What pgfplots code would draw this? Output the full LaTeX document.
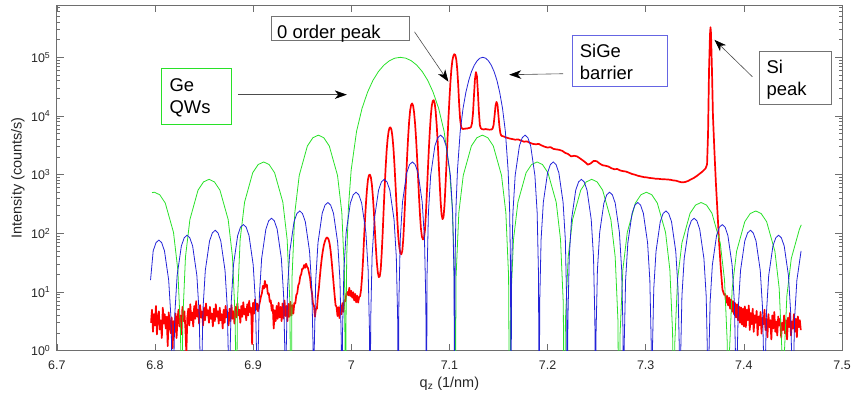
\documentclass[border=0pt]{standalone}
\usepackage{fontspec}
\setmainfont{Liberation Sans}
\usepackage{pgfplots}
\pgfplotsset{compat=1.18}
\usetikzlibrary{arrows.meta}
\definecolor{mgreen}{RGB}{40,225,40}
\definecolor{mblue}{RGB}{35,35,215}
\definecolor{mred}{RGB}{255,0,0}
\definecolor{axgray}{RGB}{110,110,110}
\begin{document}
\begin{tikzpicture}[x=1pt,y=1pt]
\path (0,0) rectangle (854,398);
\begin{axis}[
  at={(57pt,46pt)}, anchor=south west,
  width=788pt, height=347pt, scale only axis,
  xmin=6.7, xmax=7.5, ymode=log, ymin=1, ymax=7.8e5,
  xtick={6.7,6.8,6.9,7,7.1,7.2,7.3,7.4,7.5},
  xticklabels={6.7,6.8,6.9,7,7.1,7.2,7.3,7.4,7.5},
  ytick={1,10,100,1000,10000,100000},
  yticklabels={10\textsuperscript{0},10\textsuperscript{1},10\textsuperscript{2},10\textsuperscript{3},10\textsuperscript{4},10\textsuperscript{5}},
  minor ytick={2,3,4,5,6,7,8,9,20,30,40,50,60,70,80,90,200,300,400,500,600,700,800,900,2000,3000,4000,5000,6000,7000,8000,9000,20000,30000,40000,50000,60000,70000,80000,90000,200000,300000,400000,500000,600000,700000},
  tick align=inside,
  major tick length=7pt, minor tick length=3.5pt,
  axis line style={axgray, line width=0.8pt},
  every tick/.style={axgray, line width=0.6pt},
  tick label style={font=\fontsize{12.5}{14}\selectfont, text=black!85},
  xticklabel style={anchor=base, yshift=-19pt},
  yticklabel style={anchor=east, xshift=-3pt},
  xlabel={q\textsubscript{z} (1/nm)},
  ylabel={Intensity (counts/s)},
  label style={font=\fontsize{14.5}{16}\selectfont, text=black!85},
  xlabel style={at={(axis description cs:0.5,-0.1066)}, anchor=base},
  ylabel style={at={(axis description cs:-0.0495,0.5)}, anchor=center},
]
% measured data (red)
\addplot[mred, line width=1.7pt, line join=round] coordinates {
(6.796,3.0)(6.797,5.0)(6.798,2.1)(6.799,4.2)(6.800,2.7)(6.801,5.8)(6.802,1.9)(6.803,3.7)(6.804,4.7)(6.805,2.3)(6.806,3.3)(6.807,1.65)(6.808,5.4)(6.809,2.9)(6.810,4.2)(6.811,2.4)(6.812,3.8)(6.813,1.2)(6.814,4.5)(6.815,3.0)(6.816,2.0)(6.817,3.7)(6.818,1.1)(6.819,3.2)(6.820,2.1)(6.821,4.3)(6.822,1.65)(6.823,3.5)(6.824,5.0)(6.825,2.6)(6.826,4.0)(6.827,1.9)(6.828,5.6)(6.829,3.2)(6.830,4.7)(6.831,2.4)(6.832,0.9)(6.833,3.7)(6.834,5.2)(6.835,2.7)(6.836,6.2)(6.837,3.3)(6.838,4.5)(6.839,2.6)(6.840,5.8)(6.841,3.5)(6.842,7.0)(6.843,3.8)(6.844,5.0)(6.845,2.9)(6.846,6.0)(6.847,3.7)(6.848,4.7)(6.849,2.7)(6.850,5.4)(6.851,3.3)(6.852,6.4)(6.853,4.0)(6.854,4.9)(6.855,3.0)(6.856,5.6)(6.857,3.5)(6.858,4.3)(6.859,2.6)(6.860,5.2)(6.861,3.2)(6.862,6.2)(6.863,3.8)(6.864,4.7)(6.865,2.9)(6.866,5.4)(6.867,3.3)(6.868,4.2)(6.869,2.4)(6.870,5.0)(6.871,3.0)(6.872,5.8)(6.873,3.7)(6.874,4.5)(6.875,2.7)(6.876,5.2)(6.877,3.2)(6.878,6.0)(6.879,3.5)(6.880,4.7)(6.881,2.9)(6.882,5.6)(6.883,3.7)(6.884,6.4)(6.885,4.0)(6.886,5.0)(6.887,3.0)(6.888,5.8)(6.889,3.8)(6.890,6.7)(6.891,4.2)(6.892,5.2)(6.893,3.3)(6.894,6.2)(6.895,4.0)(6.896,7.1)(6.897,4.5)(6.898,5.4)(6.899,1.3)(6.900,6.6)(6.901,4.3)(6.902,7.5)(6.903,5.0)(6.904,6.4)(6.905,4.7)
(6.906,5.8)(6.907,6.9)(6.908,8.4)(6.909,9.6)(6.910,12.8)(6.911,11.5)(6.912,15.5)(6.913,12.2)(6.914,13.4)(6.915,9.3)(6.916,9.5)(6.917,6.8)(6.918,7.2)(6.919,4.8)(6.920,6.0)(6.921,2.4)(6.922,4.9)(6.923,3.2)(6.924,5.8)(6.925,3.5)(6.926,6.6)(6.927,3.7)(6.928,5.6)(6.929,3.2)(6.930,6.4)(6.931,3.6)(6.932,7.2)(6.933,3.9)(6.934,5.8)(6.935,3.2)(6.936,6.3)(6.937,3.8)(6.938,6.8)(6.939,4.0)(6.940,6.0)(6.941,4.3)(6.942,6.5)(6.943,6.4)(6.944,8.9)(6.945,9.6)(6.946,13.0)(6.947,14.2)(6.948,18.5)(6.949,20.0)(6.950,25.0)(6.951,25.0)(6.952,29.0)(6.953,26.0)(6.954,30.5)(6.955,27.0)(6.956,25.5)(6.957,21.0)(6.958,17.5)(6.959,12.0)(6.960,9.5)(6.961,6.3)(6.962,5.9)(6.963,3.8)(6.964,5.2)(6.965,5.2)(6.966,8.4)(6.967,11.5)(6.968,18.0)(6.969,27.0)(6.970,38.0)(6.971,50.0)(6.972,62.0)(6.973,72.0)(6.974,80.0)(6.975,85.0)(6.976,84.0)(6.977,78.0)(6.978,66.0)(6.979,50.0)(6.980,34.0)(6.981,22.0)(6.982,14.0)(6.983,9.0)(6.984,6.0)(6.985,5.6)(6.986,3.9)(6.987,5.5)(6.988,3.6)(6.989,5.9)(6.990,4.2)(6.991,6.5)(6.992,4.6)(6.993,7.3)(6.994,7.0)(6.995,9.4)(6.996,10.0)(6.997,8.8)(6.998,11.8)(6.999,8.6)(7.000,10.5)(7.001,8.0)(7.002,9.9)(7.003,7.2)(7.004,9.3)(7.005,6.7)(7.006,8.7)(7.007,6.6)(7.008,8.2)(7.009,8.5)(7.010,11.0)(7.011,18.0)(7.012,35.0)(7.013,80.0)(7.014,170)(7.015,330)(7.016,560)(7.017,820)(7.018,980)(7.019,1000)(7.020,900)(7.021,680)(7.022,430)(7.023,240)(7.024,120)(7.025,60)(7.026,33)(7.027,22)(7.028,18)(7.029,18.5)(7.030,24)(7.031,45)(7.032,100)(7.033,250)(7.034,600)(7.035,1300)(7.036,2500)(7.037,4000)(7.038,5400)(7.039,6300)(7.040,6400)(7.041,5800)(7.042,4400)(7.043,2800)(7.044,1500)(7.045,720)(7.046,330)(7.047,160)(7.048,85)(7.049,58)(7.050,46)(7.051,44)(7.052,50)(7.053,80)(7.054,170)(7.055,400)(7.056,950)(7.057,2200)(7.058,4500)(7.059,8200)(7.060,12500)(7.061,15500)(7.062,16400)(7.063,15000)(7.064,11500)(7.065,7500)(7.066,4200)(7.067,2100)(7.068,950)(7.069,430)(7.070,210)(7.071,120)(7.072,88)(7.073,79)(7.074,82)(7.075,110)(7.076,210)(7.077,480)(7.078,1150)(7.079,2600)(7.080,5400)(7.081,9800)(7.082,14800)(7.083,18000)(7.084,18600)(7.085,16500)(7.086,12000)(7.087,7200)(7.088,3800)(7.089,1700)(7.090,760)(7.091,360)(7.092,210)(7.093,175)(7.094,190)(7.095,300)(7.096,650)(7.097,1500)(7.098,3800)(7.099,9000)(7.100,19000)(7.101,37000)(7.102,62000)(7.103,88000)(7.104,105000)(7.105,113000)(7.106,110000)(7.107,92000)(7.108,62000)(7.109,33000)(7.110,15000)
(7.111,8500)(7.112,6500)(7.113,6100)(7.114,6000)(7.115,6100)(7.116,6050)(7.117,6150)(7.118,6100)(7.119,6200)(7.120,6250)(7.121,6300)(7.122,6500)(7.123,7500)(7.124,11000)(7.125,22000)(7.126,42000)(7.127,56000)(7.128,48000)(7.129,26000)(7.130,12000)(7.131,7000)(7.132,6200)(7.133,6000)(7.135,5900)(7.137,6000)(7.139,5900)(7.141,5850)(7.143,5900)(7.144,6100)(7.145,7000)(7.146,10000)(7.147,15000)(7.148,17400)(7.149,15500)(7.150,10000)(7.151,6500)(7.152,5000)(7.153,4600)(7.155,4500)(7.158,4300)(7.161,4150)(7.164,4050)(7.167,3950)(7.170,4000)(7.173,3800)(7.176,3650)(7.179,3700)(7.182,3500)(7.185,3350)(7.188,3300)(7.191,3350)(7.194,3150)(7.197,3000)(7.200,2900)(7.203,2950)(7.206,2750)(7.209,2700)(7.212,2650)(7.215,2550)(7.218,2350)(7.221,2250)(7.224,2050)(7.227,2100)(7.230,2050)(7.233,1900)(7.236,1750)(7.239,1600)(7.241,1480)(7.244,1560)(7.247,1720)(7.250,1700)(7.253,1550)(7.256,1450)(7.259,1420)(7.262,1380)(7.265,1290)(7.268,1240)(7.271,1250)(7.274,1180)(7.277,1150)(7.280,1130)(7.283,1080)(7.286,1030)(7.289,1000)(7.292,960)(7.295,935)(7.298,910)(7.301,900)(7.304,880)(7.307,870)(7.310,855)(7.313,850)(7.316,840)(7.319,835)(7.322,830)(7.325,820)(7.328,800)(7.331,790)(7.334,760)(7.337,740)(7.340,750)(7.343,780)(7.346,830)(7.349,880)(7.352,950)(7.355,1040)(7.358,1140)(7.361,1280)(7.3625,1500)(7.3635,5000)(7.3645,60000)(7.3655,250000)(7.3660,326000)(7.3665,260000)(7.3675,60000)(7.3685,10000)(7.3700,2500)(7.3715,720)(7.3730,250)(7.3748,69)(7.3765,25)(7.3782,11)(7.3800,9)
(7.381,9.2)(7.382,6.6)(7.383,8.6)(7.384,5.9)(7.385,8.0)(7.386,5.2)(7.387,7.5)(7.388,4.6)(7.389,7.0)(7.390,4.2)(7.391,6.5)(7.392,3.7)(7.393,6.2)(7.394,3.3)(7.395,5.7)(7.396,3.0)(7.397,5.5)(7.398,2.8)(7.399,5.2)(7.400,2.6)(7.401,5.7)(7.402,2.53)(7.403,5.0)(7.404,3.33)(7.405,5.9)(7.406,2.25)(7.407,4.4)(7.408,2.84)(7.409,5.2)(7.410,2.1)(7.411,4.0)(7.412,3.0)(7.413,4.8)(7.414,1.82)(7.415,3.84)(7.416,2.7)(7.417,4.58)(7.418,1.96)(7.419,3.66)(7.420,2.84)(7.421,5.0)(7.422,2.25)(7.423,3.5)(7.424,1.7)(7.425,4.2)(7.426,2.53)(7.427,3.33)(7.428,1.56)(7.429,4.0)(7.430,2.4)(7.431,4.58)(7.432,2.1)(7.433,3.15)(7.434,1.82)(7.435,3.84)(7.436,2.7)(7.437,3.5)(7.438,1.7)(7.439,3.0)(7.440,2.25)(7.441,4.0)(7.442,1.96)(7.443,3.33)(7.444,1.56)(7.445,3.66)(7.446,2.53)(7.447,4.4)(7.448,1.82)(7.449,3.15)(7.450,2.4)(7.451,4.2)(7.452,2.1)(7.453,3.5)(7.454,1.7)(7.455,3.84)(7.456,2.53)(7.457,3.33)(7.458,2.25)
};
% Ge QWs simulation (green)
\addplot[mgreen, line width=0.8pt] coordinates {
(6.7970,494)(6.7994,503)(6.8049,455)(6.8105,329)(6.8189,104)(6.8233,23.9)(6.8261,1.98)(6.8272,0.01)
(6.8283,3.29)(6.8311,39.7)(6.8356,172)(6.8439,546)(6.8495,754)(6.8551,834)(6.8606,754)(6.8662,546)(6.8746,172)(6.8790,39.7)(6.8818,3.29)(6.8829,0.01)
(6.8840,6.49)(6.8868,78.4)(6.8913,340)(6.8996,1079)(6.9052,1491)(6.9108,1648)(6.9163,1491)(6.9219,1079)(6.9303,340)(6.9347,78.4)(6.9375,6.49)(6.9386,0.01)
(6.9397,18.6)(6.9425,225)(6.9470,972)(6.9553,3089)(6.9609,4268)(6.9665,4719)(6.9720,4268)(6.9776,3089)(6.9860,972)(6.9904,225)(6.9932,18.6)(6.9943,0.01)
(6.9946,2.5)(6.9954,41.6)(6.9971,275)(6.9999,1194)(7.0054,5470)(7.0110,13534)(7.0166,25457)(7.0221,40528)(7.0277,57279)(7.0333,73684)(7.0389,87514)(7.0444,96753)(7.0500,100000)(7.0556,96753)(7.0611,87514)(7.0667,73684)(7.0723,57279)(7.0779,40528)(7.0834,25457)(7.0890,13534)(7.0946,5470)(7.1001,1194)(7.1029,275)(7.1046,41.6)(7.1054,2.5)(7.1057,0.01)
(7.1068,18.6)(7.1096,225)(7.1141,972)(7.1224,3089)(7.1280,4268)(7.1336,4719)(7.1391,4268)(7.1447,3089)(7.1531,972)(7.1575,225)(7.1603,18.6)(7.1614,0.01)
(7.1625,6.49)(7.1653,78.4)(7.1698,340)(7.1781,1079)(7.1837,1491)(7.1893,1648)(7.1948,1491)(7.2004,1079)(7.2088,340)(7.2132,78.4)(7.2160,6.49)(7.2171,0.01)
(7.2182,3.29)(7.2210,39.7)(7.2255,172)(7.2338,546)(7.2394,754)(7.2450,834)(7.2505,754)(7.2561,546)(7.2645,172)(7.2689,39.7)(7.2717,3.29)(7.2728,0.01)
(7.2739,1.98)(7.2767,23.9)(7.2812,104)(7.2895,329)(7.2951,455)(7.3007,503)(7.3062,455)(7.3118,329)(7.3202,104)(7.3246,23.9)(7.3274,1.98)(7.3285,0.01)
(7.3296,1.32)(7.3324,16.0)(7.3369,69.2)(7.3452,220)(7.3508,304)(7.3564,336)(7.3619,304)(7.3675,220)(7.3759,69.2)(7.3803,16.0)(7.3831,1.32)(7.3842,0.01)
(7.3853,0.95)(7.3881,11.5)(7.3926,49.6)(7.4009,158)(7.4065,218)(7.4121,241)(7.4176,218)(7.4232,158)(7.4316,49.6)(7.4360,11.5)(7.4388,0.95)(7.4399,0.01)
(7.4410,0.71)(7.4438,8.62)(7.4483,37.3)(7.4566,118)(7.4585,140)
};
% SiGe barrier simulation (blue)
\addplot[mblue, line width=0.8pt] coordinates {
(6.7955,16)(6.7982,50.4)(6.8011,69.6)(6.8040,77)(6.8068,69.6)(6.8097,50.4)(6.8140,15.9)(6.8163,3.67)(6.8177,0.30)(6.8183,0.01)
(6.8189,0.37)(6.8203,4.43)(6.8226,19.2)(6.8269,60.9)(6.8298,84.1)(6.8327,93)(6.8355,84.1)(6.8384,60.9)(6.8427,19.2)(6.8450,4.43)(6.8464,0.37)(6.8470,0.01)
(6.8476,0.45)(6.8490,5.38)(6.8513,23.3)(6.8556,74.0)(6.8585,102)(6.8614,113)(6.8642,102)(6.8671,74.0)(6.8714,23.3)(6.8737,5.38)(6.8751,0.45)(6.8757,0.01)
(6.8763,0.56)(6.8777,6.71)(6.8800,29.0)(6.8843,92.3)(6.8872,128)(6.8901,141)(6.8929,128)(6.8958,92.3)(6.9001,29.0)(6.9024,6.71)(6.9038,0.56)(6.9044,0.01)
(6.9050,0.71)(6.9064,8.62)(6.9087,37.3)(6.9130,118)(6.9159,164)(6.9188,181)(6.9216,164)(6.9245,118)(6.9288,37.3)(6.9311,8.62)(6.9325,0.71)(6.9331,0.01)
(6.9337,0.95)(6.9351,11.5)(6.9374,49.6)(6.9417,158)(6.9446,218)(6.9475,241)(6.9503,218)(6.9532,158)(6.9575,49.6)(6.9598,11.5)(6.9612,0.95)(6.9618,0.01)
(6.9624,1.32)(6.9638,16.0)(6.9661,69.2)(6.9704,220)(6.9733,304)(6.9762,336)(6.9790,304)(6.9819,220)(6.9862,69.2)(6.9885,16.0)(6.9899,1.32)(6.9905,0.01)
(6.9911,1.98)(6.9925,23.9)(6.9948,104)(6.9991,329)(7.0020,455)(7.0049,503)(7.0077,455)(7.0106,329)(7.0149,104)(7.0172,23.9)(7.0186,1.98)(7.0192,0.01)
(7.0198,3.29)(7.0212,39.7)(7.0235,172)(7.0278,546)(7.0307,754)(7.0336,834)(7.0364,754)(7.0393,546)(7.0436,172)(7.0459,39.7)(7.0473,3.29)(7.0479,0.01)
(7.0485,6.49)(7.0499,78.4)(7.0522,340)(7.0565,1079)(7.0594,1491)(7.0623,1648)(7.0651,1491)(7.0680,1079)(7.0723,340)(7.0746,78.4)(7.0760,6.49)(7.0766,0.01)
(7.0772,18.6)(7.0786,225)(7.0809,972)(7.0852,3089)(7.0881,4268)(7.0910,4719)(7.0938,4268)(7.0967,3089)(7.1010,972)(7.1033,225)(7.1047,18.6)(7.1053,0.01)
(7.1055,2.5)(7.1059,41.6)(7.1067,275)(7.1082,1194)(7.1110,5470)(7.1139,13534)(7.1168,25457)(7.1197,40528)(7.1225,57279)(7.1254,73684)(7.1283,87514)(7.1311,96753)(7.1340,100000)(7.1369,96753)(7.1397,87514)(7.1426,73684)(7.1455,57279)(7.1484,40528)(7.1512,25457)(7.1541,13534)(7.1570,5470)(7.1598,1194)(7.1613,275)(7.1621,41.6)(7.1625,2.5)(7.1627,0.01)
(7.1633,18.6)(7.1647,225)(7.1670,972)(7.1713,3089)(7.1742,4268)(7.1771,4719)(7.1799,4268)(7.1828,3089)(7.1871,972)(7.1894,225)(7.1908,18.6)(7.1914,0.01)
(7.1920,6.49)(7.1934,78.4)(7.1957,340)(7.2000,1079)(7.2029,1491)(7.2058,1648)(7.2086,1491)(7.2115,1079)(7.2158,340)(7.2181,78.4)(7.2195,6.49)(7.2201,0.01)
(7.2207,3.29)(7.2221,39.7)(7.2244,172)(7.2287,546)(7.2316,754)(7.2345,834)(7.2373,754)(7.2402,546)(7.2445,172)(7.2468,39.7)(7.2482,3.29)(7.2488,0.01)
(7.2494,1.98)(7.2508,23.9)(7.2531,104)(7.2574,329)(7.2603,455)(7.2632,503)(7.2660,455)(7.2689,329)(7.2732,104)(7.2755,23.9)(7.2769,1.98)(7.2775,0.01)
(7.2781,1.32)(7.2795,16.0)(7.2818,69.2)(7.2861,220)(7.2890,304)(7.2919,336)(7.2947,304)(7.2976,220)(7.3019,69.2)(7.3042,16.0)(7.3056,1.32)(7.3062,0.01)
(7.3068,0.95)(7.3082,11.5)(7.3105,49.6)(7.3148,158)(7.3177,218)(7.3206,241)(7.3234,218)(7.3263,158)(7.3306,49.6)(7.3329,11.5)(7.3343,0.95)(7.3349,0.01)
(7.3355,0.71)(7.3369,8.62)(7.3392,37.3)(7.3435,118)(7.3464,164)(7.3493,181)(7.3521,164)(7.3550,118)(7.3593,37.3)(7.3616,8.62)(7.3630,0.71)(7.3636,0.01)
(7.3642,0.56)(7.3656,6.71)(7.3679,29.0)(7.3722,92.3)(7.3751,128)(7.3780,141)(7.3808,128)(7.3837,92.3)(7.3880,29.0)(7.3903,6.71)(7.3917,0.56)(7.3923,0.01)
(7.3929,0.45)(7.3943,5.38)(7.3966,23.3)(7.4009,74.0)(7.4038,102)(7.4067,113)(7.4095,102)(7.4124,74.0)(7.4167,23.3)(7.4190,5.38)(7.4204,0.45)(7.4210,0.01)
(7.4216,0.37)(7.4230,4.43)(7.4253,19.2)(7.4296,60.9)(7.4325,84.1)(7.4354,93)(7.4382,84.1)(7.4411,60.9)(7.4454,19.2)(7.4477,4.43)(7.4491,0.37)(7.4497,0.01)
(7.4503,0.30)(7.4517,3.67)(7.4540,15.9)(7.4583,50.4)
};
\end{axis}
% annotations
\tikzset{annot/.style={anchor=base west, inner sep=0pt, font=\fontsize{18.5}{22}\selectfont, text=black},
         arr/.style={draw=black!70, line width=0.6pt, -{Stealth[length=12pt,width=8.5pt,inset=3.5pt,black]}}}
\draw[black!55, line width=0.7pt, fill=white] (272,382) rectangle (411,358);
\node[annot] at (278,359.7) {0 order peak};
\draw[arr] (416,366) -- (450,316);
\draw[mgreen, line width=0.7pt, fill=white] (162,329) rectangle (232,273);
\node[annot] at (170,306.3) {Ge};
\node[annot] at (170,284.3) {QWs};
\draw[arr] (239,303) -- (348,303);
\draw[mblue!70, line width=0.7pt, fill=white] (574,363) rectangle (670,311);
\node[annot] at (581.7,340.7) {SiGe};
\node[annot] at (581.7,318.3) {barrier};
\draw[arr] (565,324) -- (511,323);
\draw[black!55, line width=0.7pt, fill=white] (762,346) rectangle (834,293);
\node[annot] at (769,324.7) {Si};
\node[annot] at (769,302.3) {peak};
\draw[arr] (755,321) -- (717,358);
\end{tikzpicture}
\end{document}
